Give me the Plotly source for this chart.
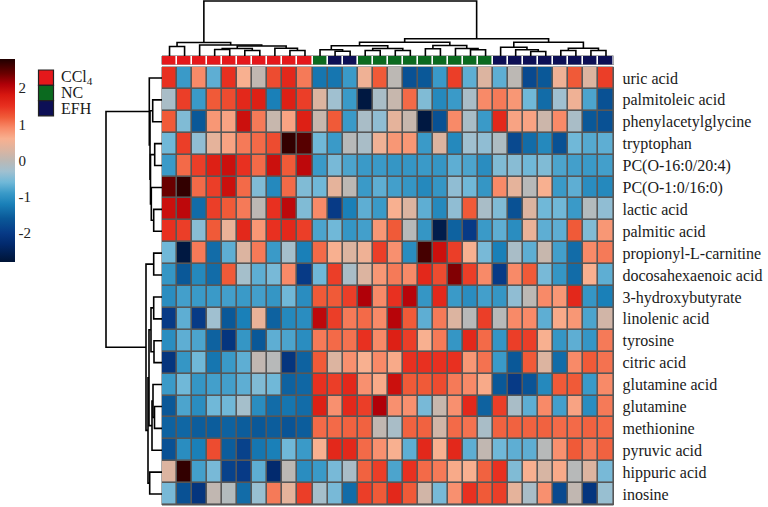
import plotly.graph_objects as go

# ---------------- data ----------------
metabolites = ["uric acid", "palmitoleic acid", "phenylacetylglycine", "tryptophan",
               "PC(O-16:0/20:4)", "PC(O-1:0/16:0)", "lactic acid", "palmitic acid",
               "propionyl-L-carnitine", "docosahexaenoic acid", "3-hydroxybutyrate",
               "linolenic acid", "tyrosine", "citric acid", "glutamine acid", "glutamine",
               "methionine", "pyruvic acid", "hippuric acid", "inosine"]

sample_groups = ["CCl4"] * 10 + ["NC"] + ["EFH"] * 2 + ["NC"] * 9 + ["EFH"] * 8

group_names = ["CCl4", "NC", "EFH"]
group_labels = ["CCl<sub>4</sub>", "NC", "EFH"]
group_colors = ["#E5181B", "#0B6A1F", "#0D0F55"]

z_scores = [
    [1.5, -0.9, 0.9, -0.7, 1.5, 0.6, 0.05, 1.3, 1.6, 1.0, -1.3, -1.3, -0.9, 0.5, 1.2, 0, -1.7, -1.6, -0.9, 1.4, -0.7, 0.3, -0.7, 0, -1.8, -1.6, 0.5, 1.2, 0.3, 1.4],
    [-0.2, 1.4, -0.9, 1.2, 1.3, 1.6, 1.7, -1.2, 1.7, 1.4, 0.3, -0.3, -0.9, -2.7, -0.2, 0.1, 1.1, -0.5, -1.1, -0.9, -0.2, 0.9, 1.0, 0.8, -0.6, -1.4, -0.3, 0.5, -0.8, -1.7],
    [1.2, -0.5, -1.6, 0.8, 0.7, 1.9, 1.0, 0.1, 0.7, 1.7, 0.1, 1.2, -0.9, -0.2, -0.4, 0.4, 0.1, -2.7, -1.7, 0.9, -0.2, -0.9, 1.6, 0.7, 0.7, 0.15, 0.9, -0.2, -1.6, -1.7],
    [-0.6, 1.4, -0.4, 0.4, 0.7, 1.0, 1.1, 1.3, 2.7, 2.5, -0.6, -0.9, -0.05, -0.2, 0.5, 0.8, 0.8, -0.9, 0.3, -1.1, -0.3, -0.4, -0.15, -1.8, -1.4, -1.1, -1.7, -0.6, -0.75, -0.7],
    [-0.9, 1.1, 1.4, 1.7, 1.9, 1.5, 1.1, 1.9, 1.2, 2.0, -0.9, -0.55, -0.8, -0.9, -0.9, -0.95, -0.95, -0.9, -0.95, -0.7, -0.8, -1.05, -0.5, -0.45, -0.6, -0.5, -0.8, -0.85, -0.9, -0.85],
    [2.4, 2.7, 1.1, 1.4, 1.9, 1.1, -0.5, -1.1, 1.1, -0.5, -0.6, 0.4, 0, -0.9, -0.7, -0.85, -0.95, -1.1, -0.95, -0.4, -0.6, -0.95, 0.9, 0.4, -0.05, 0.6, -0.9, -0.7, -1.05, -1.1],
    [1.9, 2.0, -1.4, 1.4, 1.2, 1.0, 0, 1.5, 2.0, -0.5, 0.9, -2.0, -1.2, -0.7, -0.9, 0.6, 0.3, -0.7, -1.1, -0.4, 1.2, -0.2, -0.5, -1.7, 0.3, -0.6, -0.6, -0.9, -0.1, -0.4],
    [1.5, 1.4, -0.45, 1.2, 0.45, 1.6, 0.8, 1.5, 1.6, 1.4, -0.8, -0.6, -0.95, -0.85, 0.8, 1.2, -0.05, -0.95, -2.6, -1.5, -2.0, -0.9, -0.7, -1.05, 0.45, -0.7, -0.7, 1.2, -0.5, 0.8],
    [-0.6, -2.7, 1.0, -1.4, -0.7, 0.3, 1.0, -0.9, -0.25, -1.2, 1.1, 0.6, 0.3, 0.5, 1.4, 0.85, -1.05, 2.6, 1.9, 1.4, 0.6, -0.55, -1.2, -0.2, -0.7, 0.1, -0.85, -1.4, 0.9, 1.0],
    [-0.95, -1.6, -1.1, -1.4, 1.2, -0.25, -0.7, -0.55, 0.9, -2.0, -0.6, 1.4, -0.2, 0.3, 0.8, 1.0, 0.9, 1.6, 1.3, 2.3, 1.4, 0.9, -2.0, 0.9, 1.2, -0.55, -0.95, -1.4, 0.6, -0.7],
    [-1.05, -0.85, -0.9, -0.9, -0.85, -0.9, -0.85, -0.95, -0.6, -1.05, 1.2, 1.2, 1.4, 2.1, 0.9, 1.5, 2.05, -0.95, 1.6, -0.9, -1.05, -0.85, -0.95, -0.4, 0, 0.9, 0.8, 1.6, -0.95, -1.2],
    [-2.0, -0.7, -2.0, -0.3, -1.6, -1.2, 0.45, -1.5, -1.1, -1.05, 2.0, 1.4, 1.0, 1.1, 0.9, 2.05, 1.2, -0.7, 1.0, 0.3, -0.05, 1.4, -0.05, 0.9, 0.9, -0.7, 0.65, 0.8, -0.8, 0.2],
    [-1.05, -0.7, -0.8, -1.5, -2.1, -0.95, -1.6, -0.7, -0.8, -1.05, 1.0, 1.1, 1.05, 1.5, 0.9, 1.7, 1.4, 0.6, 1.0, -0.95, 1.6, 1.1, -0.95, 1.4, 1.4, 0.6, -0.95, -0.7, -0.95, 1.0],
    [-2.1, -0.95, -0.6, -1.3, -0.9, -0.7, 0.05, -0.05, -2.1, -1.5, 1.2, 0.3, 0.85, 0.6, 0.9, 0.65, 1.5, 1.5, 1.5, 1.5, 0.8, 1.05, -0.9, -1.6, 1.2, 0.3, -1.4, 0.9, 1.2, 1.05],
    [-0.9, -0.6, -0.95, -0.85, -0.85, -0.7, -0.5, -0.6, -1.5, -1.45, 1.5, 1.4, 1.6, 0.85, 0.65, 1.9, 1.2, 1.2, 1.3, 1.0, 0.9, 0.65, -1.6, -2.0, -1.65, -1.1, 1.2, 1.2, -0.9, 0.9],
    [-1.6, -0.8, -1.05, -0.6, -0.6, -0.25, -1.05, -1.4, -1.3, -1.4, 1.7, 0.85, 1.6, 1.4, 2.1, 0.85, 0.85, -0.55, 0.1, 0.85, 1.6, -1.5, 1.4, -0.2, -0.7, 0.9, -0.85, 0.7, -1.05, 1.0],
    [-1.5, -1.45, -1.55, -1.55, -1.5, -1.55, -1.6, -1.55, -1.65, -1.55, 1.1, 1.1, 1.15, 1.15, 0.05, -0.2, 1.15, 1.15, 0.2, 1.1, 1.05, -0.2, 1.15, 1.15, 1.15, 1.15, 1.1, 1.1, 1.15, 1.1],
    [-1.7, -1.05, -1.2, 1.3, -1.55, -1.9, -1.3, -1.2, -0.6, -0.9, 0.6, 1.6, 1.6, 1.1, 0.85, 0.6, -0.7, 1.6, 0.6, 1.6, -0.7, 0.05, -0.6, -0.7, -0.7, -0.05, 0.85, 1.2, 1.0, 1.15],
    [0.3, 2.7, -0.85, -0.55, -1.9, -2.0, -0.7, -2.3, 0, -1.05, -0.9, -0.55, -0.2, 1.15, 1.4, -0.8, 1.5, 1.1, 1.0, 0.65, 0.6, 1.15, 1.5, -0.5, 0.6, 0.25, 0.65, -0.05, 0.3, -0.55],
    [-0.55, -1.7, -2.1, 0.05, -0.1, -1.4, -0.35, 1.0, 0.4, 1.4, -0.25, -0.55, -1.4, 1.4, 1.2, 1.6, 1.2, 0.2, -0.55, 0.85, 1.5, 1.2, 1.4, 0.4, -0.2, 0.85, -1.8, 0.05, -2.1, -0.35],
]

colorbar_ticks = [-2, -1, 0, 1, 2]
colorbar_ticktext = ["-2", "-1", "0", "1", "2"]

# hierarchical merges (scipy-style: id < n is a leaf, n+i is merge i), heights
col_merges = [
    (0, 1, 10), (3, 4, 7), (5, 6, 6), (31, 32, 8), (8, 9, 6), (7, 34, 8.3),
    (33, 35, 10.5), (2, 36, 11.5), (30, 37, 14),
    (11, 12, 5.3), (10, 39, 6.7), (13, 14, 6), (15, 16, 6), (41, 42, 8),
    (40, 43, 10.7), (17, 18, 7.7), (20, 21, 6.7), (19, 46, 8), (45, 47, 11),
    (44, 48, 14.3), (24, 25, 5), (23, 50, 6.7), (22, 51, 9.3), (26, 27, 6),
    (28, 29, 6), (53, 54, 8.3), (52, 55, 14.3), (49, 56, 17.7), (38, 57, 55.5),
]
row_merges = [
    (1, 2, 9.3), (3, 4, 7.3), (6, 7, 8.3), (5, 22, 10.7), (21, 23, 11.5),
    (20, 24, 12.0), (0, 25, 12.7), (8, 9, 8.3), (10, 11, 8.3), (12, 13, 8),
    (28, 29, 11), (15, 16, 7.5), (14, 31, 9), (32, 17, 10), (30, 33, 13),
    (18, 19, 12.3), (34, 35, 14), (27, 36, 16), (26, 37, 56),
]

# ---------------- helpers ----------------
def dendro_paths(merges, n):
    pos = {i: float(i) for i in range(n)}
    hgt = {i: 0.0 for i in range(n)}
    lp, lh = [], []
    for k, (a, b, h) in enumerate(merges):
        lp += [pos[a], pos[a], pos[b], pos[b], None]
        lh += [hgt[a], h, h, hgt[b], None]
        pos[n + k] = (pos[a] + pos[b]) / 2
        hgt[n + k] = h
    return lp, lh

W, H = 768, 507
def px_x(v): return v / W
def px_y(v): return 1 - v / H

serif = "Liberation Serif"
zmin, zmax = -2.8, 2.8
anchors = [(-2.8, "#001436"), (-2.3, "#022a6e"), (-2.0, "#073a86"), (-1.6, "#0a5898"),
           (-1.2, "#1a80b8"), (-0.9, "#3a9ac8"), (-0.6, "#70b8d8"), (-0.3, "#a0c0d0"),
           (0.0, "#bcb8b4"), (0.3, "#dcb4a0"), (0.6, "#f8b090"), (0.9, "#f88a68"),
           (1.2, "#f05a38"), (1.5, "#e83020"), (1.8, "#d81810"), (2.1, "#b00008"),
           (2.4, "#6a0000"), (2.8, "#200000")]
colorscale = [[(v - zmin) / (zmax - zmin), c] for v, c in anchors]

n_rows, n_cols = len(metabolites), len(sample_groups)
xs = list(range(n_cols))
ys = list(range(n_rows))

fig = go.Figure()

# main heatmap
fig.add_trace(go.Heatmap(
    z=z_scores, x=xs, y=ys, zmin=zmin, zmax=zmax, colorscale=colorscale,
    xgap=1.6, ygap=1.6, xaxis="x", yaxis="y",
    colorbar=dict(x=0, xanchor="left", xpad=0, y=px_y(160.5), yanchor="middle",
                  len=203 / H, lenmode="fraction", ypad=0, thickness=15,
                  outlinewidth=0, tickvals=colorbar_ticks, ticktext=colorbar_ticktext,
                  ticks="", tickfont=dict(family=serif, size=15, color="#222222")),
))

# annotation bar
gcode = [group_names.index(g) for g in sample_groups]
bar_cs = [[0, group_colors[0]], [1 / 3, group_colors[0]], [1 / 3, group_colors[1]],
          [2 / 3, group_colors[1]], [2 / 3, group_colors[2]], [1, group_colors[2]]]
fig.add_trace(go.Heatmap(
    z=[gcode], x=xs, y=[0], zmin=-0.5, zmax=2.5, colorscale=bar_cs, showscale=False,
    xgap=1.6, xaxis="x4", yaxis="y4", hoverinfo="skip"))

# dendrograms
cx, ch = dendro_paths(col_merges, n_cols)
fig.add_trace(go.Scatter(x=cx, y=ch, mode="lines", xaxis="x2", yaxis="y2",
                         line=dict(color="black", width=1.6), showlegend=False,
                         hoverinfo="skip"))
ry, rh = dendro_paths(row_merges, n_rows)
fig.add_trace(go.Scatter(x=rh, y=ry, mode="lines", xaxis="x3", yaxis="y3",
                         line=dict(color="black", width=1.6), showlegend=False,
                         hoverinfo="skip"))

hm_x = [px_x(162), px_x(613.5)]
hm_y = [px_y(505), px_y(67)]
hidden = dict(visible=False, showgrid=False, zeroline=False)

fig.update_layout(
    width=W, height=H, margin=dict(l=0, r=0, t=0, b=0, autoexpand=False),
    paper_bgcolor="white", plot_bgcolor="white", showlegend=False,
    xaxis=dict(domain=hm_x, range=[-0.5, n_cols - 0.5], **hidden),
    yaxis=dict(domain=hm_y, range=[n_rows - 0.5, -0.5], side="right",
               tickvals=ys, ticktext=metabolites, ticks="", showgrid=False,
               zeroline=False, showline=False, ticklabelstandoff=8, automargin=False,
               tickfont=dict(family=serif, size=16, color="#1a1a1a")),
    xaxis2=dict(domain=hm_x, range=[-0.5, n_cols - 0.5], anchor="y2", **hidden),
    yaxis2=dict(domain=[px_y(56.5), 1.0], range=[0, 56.5], anchor="x2", **hidden),
    xaxis3=dict(domain=[px_x(90), px_x(162)], range=[72, 0], anchor="y3", **hidden),
    yaxis3=dict(domain=hm_y, range=[n_rows - 0.5, -0.5], anchor="x3", **hidden),
    xaxis4=dict(domain=hm_x, range=[-0.5, n_cols - 0.5], anchor="y4", **hidden),
    yaxis4=dict(domain=[px_y(64.5), px_y(56)], range=[-0.5, 0.5], anchor="x4", **hidden),
)

shapes = [
    dict(type="rect", xref="x domain", yref="y domain", x0=0, x1=1, y0=0, y1=1,
         fillcolor="#575757", line=dict(color="#575757", width=1), layer="below"),
    dict(type="rect", xref="x4 domain", yref="y4 domain", x0=0, x1=1, y0=0, y1=1,
         fillcolor="#575757", line=dict(color="#575757", width=1), layer="below"),
]
# legend boxes
box_tops = [70, 85.3, 100.6]
for top, col in zip(box_tops, group_colors):
    shapes.append(dict(type="rect", xref="paper", yref="paper",
                       x0=px_x(38.5), x1=px_x(53.5), y0=px_y(top + 15.3), y1=px_y(top),
                       fillcolor=col, line=dict(color="#222222", width=1.2)))
fig.update_layout(shapes=shapes)

annotations = []
for top, lab in zip(box_tops, group_labels):
    annotations.append(dict(text=lab, xref="paper", yref="paper", x=px_x(59),
                            y=px_y(top + 7.5), xanchor="left", yanchor="middle",
                            showarrow=False,
                            font=dict(family=serif, size=16, color="#1a1a1a")))
fig.update_layout(annotations=annotations)

fig.write_html("out.html", config={"displayModeBar": False},
               post_script="document.body.style.margin='0';")
